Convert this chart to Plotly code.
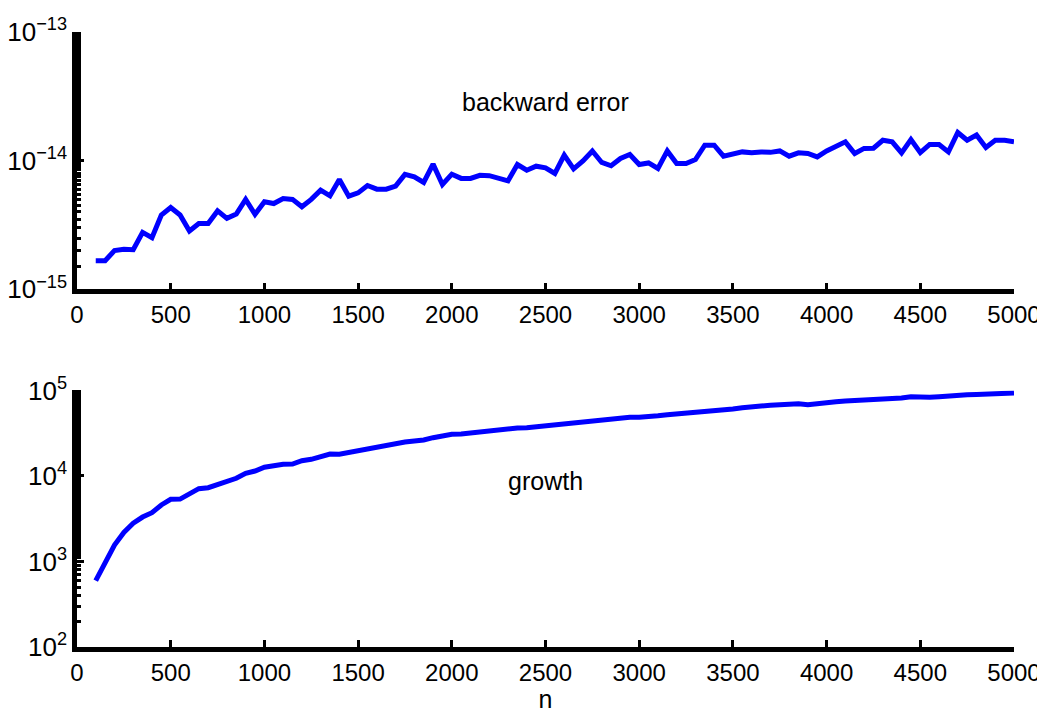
import plotly.graph_objects as go

n_values = list(range(100, 5001, 50))

backward_error = [
    1.67e-15, 1.67e-15, 2.00e-15, 2.05e-15, 2.03e-15, 2.77e-15, 2.52e-15, 3.78e-15, 4.32e-15, 3.78e-15,
    2.84e-15, 3.25e-15, 3.25e-15, 4.07e-15, 3.56e-15, 3.84e-15, 5.00e-15, 3.83e-15, 4.79e-15, 4.64e-15,
    5.08e-15, 5.00e-15, 4.38e-15, 5.00e-15, 5.90e-15, 5.33e-15, 7.14e-15, 5.30e-15, 5.62e-15, 6.41e-15,
    6.00e-15, 6.00e-15, 6.34e-15, 7.82e-15, 7.48e-15, 6.77e-15, 9.40e-15, 6.53e-15, 7.85e-15, 7.28e-15,
    7.28e-15, 7.70e-15, 7.65e-15, 7.36e-15, 6.97e-15, 9.33e-15, 8.43e-15, 9.06e-15, 8.80e-15, 7.96e-15,
    1.104e-14, 8.63e-15, 9.96e-15, 1.19e-14, 9.68e-15, 9.12e-15, 1.04e-14, 1.116e-14, 9.33e-15, 9.60e-15,
    8.69e-15, 1.19e-14, 9.50e-15, 9.50e-15, 1.02e-14, 1.318e-14, 1.318e-14, 1.084e-14, 1.137e-14, 1.17e-14,
    1.15e-14, 1.17e-14, 1.16e-14, 1.19e-14, 1.084e-14, 1.15e-14, 1.137e-14, 1.07e-14, 1.19e-14, 1.28e-14,
    1.40e-14, 1.137e-14, 1.245e-14, 1.25e-14, 1.44e-14, 1.40e-14, 1.15e-14, 1.46e-14, 1.155e-14, 1.336e-14,
    1.336e-14, 1.17e-14, 1.655e-14, 1.44e-14, 1.58e-14, 1.265e-14, 1.44e-14, 1.44e-14, 1.40e-14,
]

growth = [
    596, 1000, 1560, 2190, 2800, 3310, 3720, 4580, 5340, 5370,
    6280, 7110, 7300, 8000, 8810, 9400, 10760, 11440, 12650, 13340,
    13700, 13800, 15100, 15670, 17130, 18080, 18000, 18920, 19900, 20700,
    21250, 22600, 23880, 24990, 25650, 26360, 28060, 29600, 30750, 31000,
    31850, 33350, 33900, 34540, 35480, 36420, 36700, 37750, 38470, 38700,
    40590, 42010, 42000, 43630, 45190, 46420, 47300, 48590, 48600, 49000,
    50720, 52100, 53100, 53900, 55580, 56500, 57540, 59600, 60780, 62950,
    65320, 65900, 67100, 68300, 69500, 70000, 68300, 70800, 73300, 73900,
    75300, 76000, 76800, 77500, 78000, 79600, 81700, 84700, 83300, 83300,
    84700, 87000, 87800, 89300, 90000, 91000, 91000, 91800, 93500,
]

x_ticks = list(range(0, 5001, 500))
top_yticks = [1e-15, 1e-14, 1e-13]
top_yticktext = ["10<sup>\u221215</sup>", "10<sup>\u221214</sup>", "10<sup>\u221213</sup>"]
bot_yticks = [1e2, 1e3, 1e4, 1e5]
bot_yticktext = ["10<sup>2</sup>", "10<sup>3</sup>", "10<sup>4</sup>", "10<sup>5</sup>"]

FONT = "Liberation Sans, Arial, Helvetica, sans-serif"
LINE_COLOR = "#0000ff"

fig = go.Figure()
fig.add_trace(go.Scatter(x=n_values, y=backward_error, mode="lines",
                         line=dict(color=LINE_COLOR, width=5),
                         xaxis="x", yaxis="y", showlegend=False))
fig.add_trace(go.Scatter(x=n_values, y=growth, mode="lines",
                         line=dict(color=LINE_COLOR, width=5),
                         xaxis="x2", yaxis="y2", showlegend=False))

common_x = dict(range=[0, 5000], tickvals=x_ticks, ticktext=[str(v) for v in x_ticks],
                showline=True, linecolor="black", linewidth=4.5,
                ticks="inside", ticklen=7, tickwidth=3, tickcolor="black",
                showgrid=False, zeroline=False, automargin=False,
                tickfont=dict(family=FONT, size=24, color="black"))

common_y = dict(type="log", showline=True, linecolor="black", linewidth=4.5,
                ticks="inside", ticklen=7, tickwidth=3, tickcolor="black",
                showgrid=False, zeroline=False, automargin=False,
                tickfont=dict(family=FONT, size=26, color="black"),
                minor=dict(ticks="inside", ticklen=4, tickwidth=3, tickcolor="black", showgrid=False))

fig.update_layout(
    width=1037, height=705,
    margin=dict(l=69, r=31, t=24, b=66),
    plot_bgcolor="white", paper_bgcolor="white",
    font=dict(family=FONT, color="black"),
    xaxis=dict(domain=[0, 1], anchor="y", **common_x),
    yaxis=dict(domain=[0.5816, 1.0], anchor="x", range=[-15, -13],
               tickvals=top_yticks, ticktext=top_yticktext, **common_y),
    xaxis2=dict(domain=[0, 1], anchor="y2",
                title=dict(text="n", font=dict(family=FONT, size=25, color="black"), standoff=6),
                **common_x),
    yaxis2=dict(domain=[0.0, 0.4171], anchor="x2", range=[2, 5],
                tickvals=bot_yticks, ticktext=bot_yticktext, **common_y),
    annotations=[
        dict(text="backward error", x=2500, y=-13.545, xref="x", yref="y",
             showarrow=False, font=dict(family=FONT, size=25, color="black")),
        dict(text="growth", x=2500, y=3.94, xref="x2", yref="y2",
             showarrow=False, font=dict(family=FONT, size=25, color="black")),
    ],
)

fig.write_html("out.html")
